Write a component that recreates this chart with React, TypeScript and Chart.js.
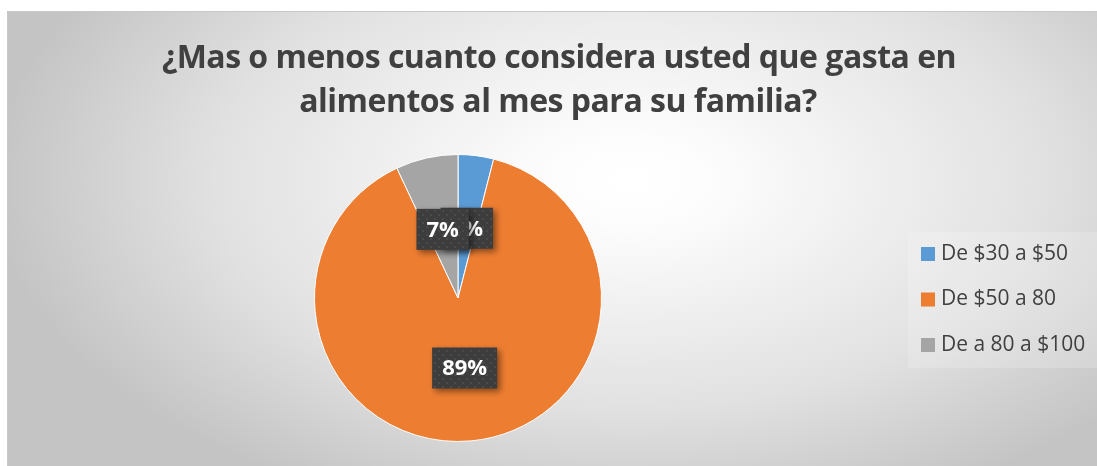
import React, { useEffect, useRef } from "react";
import { Chart, registerables } from "chart.js";

Chart.register(...registerables);

const titleLines = ["¿Mas o menos cuanto considera usted que gasta en", "alimentos al mes para su familia?"];
const categories = ["De $30 a $50", "De $50 a 80", "De a 80 a $100"];
const percentValues = [4, 89, 7];
const sliceColors = ["#5B9BD5", "#ED7D31", "#A5A5A5"];

const W = 1097;
const H = 466;

function makeDotPattern(ctx: CanvasRenderingContext2D) {
  const c = document.createElement("canvas");
  c.width = 8;
  c.height = 8;
  const p = c.getContext("2d")!;
  p.fillStyle = "#3d3d3d";
  p.fillRect(0, 0, 8, 8);
  p.fillStyle = "#4a4a4a";
  p.fillRect(2, 2, 2, 2);
  p.fillRect(6, 6, 2, 2);
  return ctx.createPattern(c, "repeat")!;
}

const bgPlugin = {
  id: "bgPlugin",
  beforeDraw(chart: any) {
    const ctx = chart.ctx as CanvasRenderingContext2D;
    ctx.save();
    ctx.fillStyle = "#ffffff";
    ctx.fillRect(0, 0, W, H);
    // elliptical radial gradient
    ctx.save();
    ctx.beginPath();
    ctx.rect(7.5, 11.5, W, H);
    ctx.clip();
    const cx = 630;
    const cy = 180;
    const sy = 0.55;
    ctx.translate(cx, cy);
    ctx.scale(1, sy);
    const g = ctx.createRadialGradient(0, 0, 0, 0, 0, 640);
    g.addColorStop(0, "#ffffff");
    g.addColorStop(0.12, "#fdfdfd");
    g.addColorStop(0.65, "#e1e1e1");
    g.addColorStop(0.95, "#c8c8c8");
    g.addColorStop(1, "#c4c4c4");
    ctx.fillStyle = g;
    ctx.fillRect(-cx, -cy / sy, W * 2, (H * 2) / sy);
    ctx.restore();
    ctx.strokeStyle = "#c8c8c8";
    ctx.lineWidth = 1;
    ctx.strokeRect(7.5, 11.5, W, H);
    // title
    ctx.fillStyle = "#404040";
    ctx.font = "bold 32px 'Open Sans', sans-serif";
    (ctx as any).letterSpacing = "-0.5px";
    ctx.textAlign = "center";
    ctx.textBaseline = "alphabetic";
    ctx.fillText(titleLines[0], 559, 68);
    ctx.fillText(titleLines[1], 558, 112);
    (ctx as any).letterSpacing = "0px";
    ctx.restore();
  },
};

const overlayPlugin = {
  id: "overlayPlugin",
  afterDraw(chart: any) {
    const ctx = chart.ctx as CanvasRenderingContext2D;
    const meta = chart.getDatasetMeta(0);
    const ds = chart.data.datasets[0];
    const pattern = makeDotPattern(ctx);
    ctx.save();
    // data labels
    meta.data.forEach((arc: any, i: number) => {
      const { x, y, startAngle, endAngle, outerRadius } = arc.getProps(
        ["x", "y", "startAngle", "endAngle", "outerRadius"],
        true
      );
      const mid = (startAngle + endAngle) / 2;
      const r = outerRadius * 0.49;
      const cx = x + Math.cos(mid) * r;
      const cy = y + Math.sin(mid) * r;
      const text = ds.data[i] + "%";
      ctx.font = "bold 22px 'Open Sans', sans-serif";
      const tw = ctx.measureText(text).width;
      const bw = tw + 20;
      const bh = 41;
      ctx.save();
      ctx.shadowColor = "rgba(0,0,0,0.45)";
      ctx.shadowBlur = 6;
      ctx.shadowOffsetX = 3;
      ctx.shadowOffsetY = 3;
      ctx.fillStyle = pattern;
      ctx.fillRect(cx - bw / 2, cy - bh / 2, bw, bh);
      ctx.restore();
      ctx.fillStyle = "#ffffff";
      ctx.textAlign = "center";
      ctx.textBaseline = "middle";
      ctx.fillText(text, cx, cy + 1);
    });
    // legend
    ctx.fillStyle = "rgba(255,255,255,0.18)";
    ctx.fillRect(908, 232, W - 908, 136);
    const labels = chart.data.labels as string[];
    labels.forEach((lab, i) => {
      const yy = 254 + i * 45.5;
      ctx.fillStyle = (ds.backgroundColor as string[])[i];
      ctx.fillRect(921, yy - 7, 14, 14);
      ctx.fillStyle = "#404040";
      ctx.font = "21px 'Open Sans', sans-serif";
      ctx.textAlign = "left";
      ctx.textBaseline = "middle";
      ctx.fillText(lab, 941, yy);
    });
    ctx.restore();
  },
};

export default function App() {
  const ref = useRef<HTMLCanvasElement | null>(null);
  useEffect(() => {
    if (!ref.current) return;
    const chart = new Chart(ref.current, {
      type: "pie",
      data: {
        labels: categories,
        datasets: [
          {
            data: percentValues,
            backgroundColor: sliceColors,
            borderColor: "#ffffff",
            borderWidth: 1,
          },
        ],
      },
      options: {
        animation: false,
        responsive: false,
        layout: { padding: { left: 314, right: W - 602, top: 154, bottom: H - 442 } },
        plugins: {
          legend: { display: false },
          title: { display: false },
          tooltip: { enabled: false },
        },
      },
      plugins: [bgPlugin, overlayPlugin],
    });
    return () => chart.destroy();
  }, []);
  return (
    <div style={{ position: "absolute", left: 0, top: 0, width: W, height: H }}>
      <canvas ref={ref} width={W} height={H} style={{ display: "block", width: W, height: H }} />
    </div>
  );
}
